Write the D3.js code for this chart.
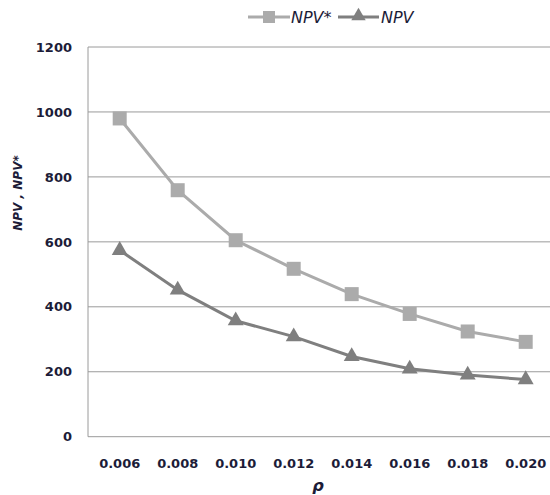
<!DOCTYPE html>
<html><head><meta charset="utf-8">
<script src="https://cdn.jsdelivr.net/npm/d3@7"></script>
<style>body{margin:0;background:#fff}svg{display:block}</style>
</head><body>
<script>
const categories = ["0.006","0.008","0.010","0.012","0.014","0.016","0.018","0.020"];
const npvStar = [980, 759, 605, 517, 439, 378, 324, 292];
const npv = [574, 452, 357, 308, 247, 209, 190, 176];
const yTicks = [0, 200, 400, 600, 800, 1000, 1200];
const seriesNames = ["NPV*", "NPV"];

(function () {
const W = 550, H = 495;
const pLeft = 88, pRight = 552, pTop = 47, pBottom = 436.7;
const svg = d3.select("body").append("svg").attr("width", W).attr("height", H);
const textColor = "#1c1c38";
const font = "Verdana, 'DejaVu Sans', sans-serif";

const x = d3.scaleBand().domain(categories).range([pLeft + 2.7, pRight + 2.7]);
const y = d3.scaleLinear().domain([0, 1200]).range([pBottom, pTop]);
const cx = d => x(d) + x.bandwidth() / 2;

// gridlines
svg.append("g").selectAll("line").data(yTicks).join("line")
  .attr("x1", pLeft).attr("x2", W).attr("y1", d => y(d)).attr("y2", d => y(d))
  .attr("stroke", "#9a9a9a").attr("stroke-width", 1);
svg.append("line").attr("x1", pLeft).attr("x2", pLeft).attr("y1", pTop).attr("y2", pBottom)
  .attr("stroke", "#9a9a9a");

// y axis labels
const yAxis = d3.axisLeft(y).tickValues(yTicks).tickFormat(d3.format("d")).tickSize(0).tickPadding(16);
const gy = svg.append("g").attr("transform", `translate(${pLeft},0)`).call(yAxis);
gy.select(".domain").remove();
gy.selectAll("text").attr("font-family", font).attr("font-size", 13).attr("font-weight", "bold")
  .attr("fill", textColor);

// x axis labels
const xAxis = d3.axisBottom(x).tickSize(0).tickPadding(22);
const gx = svg.append("g").attr("transform", `translate(0,${pBottom})`).call(xAxis);
gx.select(".domain").remove();
gx.selectAll("text").attr("font-family", font).attr("font-size", 13).attr("font-weight", "bold")
  .attr("fill", textColor);

// axis titles
svg.append("text").attr("x", 318).attr("y", 491).attr("text-anchor", "middle")
  .attr("font-family", font).attr("font-size", 16).attr("font-weight", "bold").attr("font-style", "italic")
  .attr("fill", textColor).text("ρ");
svg.append("text").attr("transform", "translate(22,193) rotate(-90)").attr("text-anchor", "middle")
  .attr("font-family", font).attr("font-size", 12).attr("font-weight", "bold").attr("font-style", "italic")
  .attr("fill", textColor).text("NPV , NPV*");

const colors = ["#ababab", "#7f7f7f"];
const line = d3.line().x((d, i) => cx(categories[i])).y(d => y(d));
const tri = d3.symbol().type(d3.symbolTriangle).size(110);

[npvStar, npv].forEach((vals, s) => {
  svg.append("path").datum(vals).attr("d", line).attr("fill", "none")
    .attr("stroke", colors[s]).attr("stroke-width", 3);
  const g = svg.append("g");
  vals.forEach((v, i) => {
    if (s === 0) {
      g.append("rect").attr("x", cx(categories[i]) - 7).attr("y", y(v) - 7)
        .attr("width", 14).attr("height", 14).attr("fill", colors[s]);
    } else {
      g.append("path").attr("d", tri).attr("transform", `translate(${cx(categories[i])},${y(v)})`)
        .attr("fill", colors[s]);
    }
  });
});

// legend
const ly = 17;
const leg = [
  {x1: 248, x2: 290, tx: 291, s: 0},
  {x1: 338, x2: 379, tx: 381, s: 1}
];
leg.forEach(l => {
  svg.append("line").attr("x1", l.x1).attr("x2", l.x2).attr("y1", ly).attr("y2", ly)
    .attr("stroke", colors[l.s]).attr("stroke-width", 3);
  const mx = (l.x1 + l.x2) / 2;
  if (l.s === 0) {
    svg.append("rect").attr("x", mx - 6).attr("y", ly - 6).attr("width", 12).attr("height", 12).attr("fill", colors[0]);
  } else {
    svg.append("path").attr("d", d3.symbol().type(d3.symbolTriangle).size(90))
      .attr("transform", `translate(${mx},${ly - 1})`).attr("fill", colors[1]);
  }
  svg.append("text").attr("x", l.tx).attr("y", ly + 6).attr("font-family", font).attr("font-size", 16)
    .attr("font-style", "italic").attr("fill", textColor).text(seriesNames[l.s]);
});
})();
</script>
</body></html>
